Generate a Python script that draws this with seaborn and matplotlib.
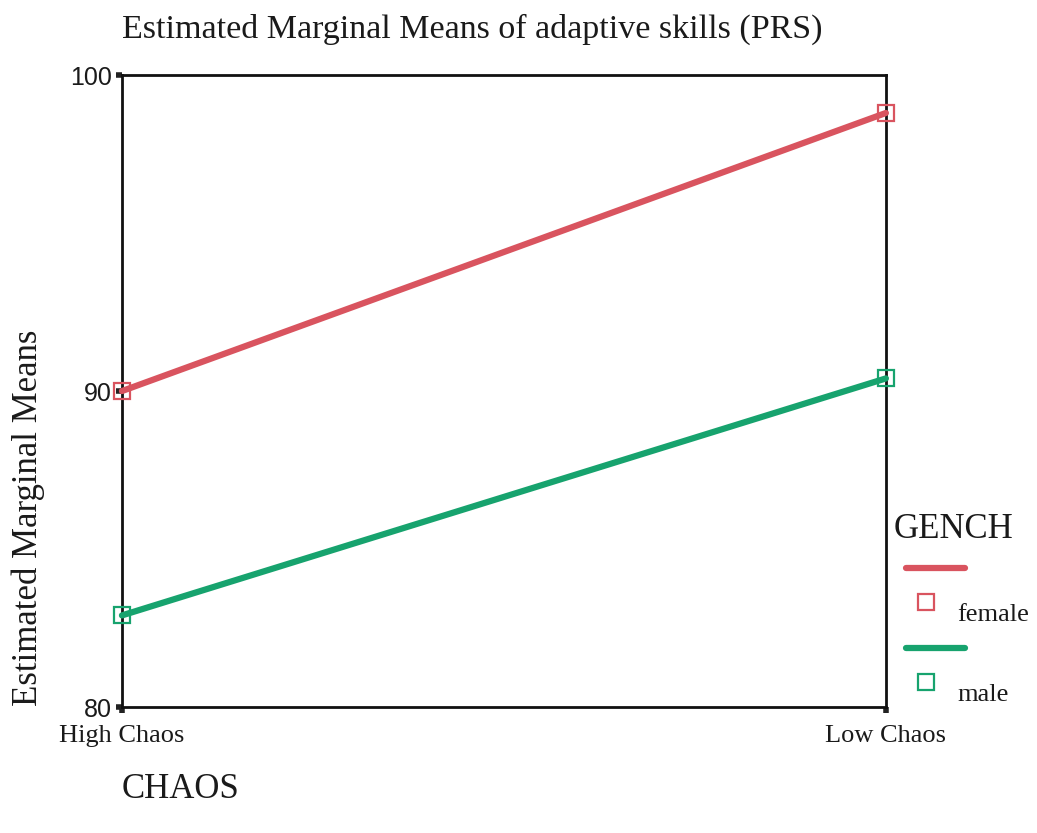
#Estimated marginal means plot (SPSS style) in seaborn

import matplotlib
matplotlib.use('Agg')
import matplotlib.pyplot as plt
from matplotlib.lines import Line2D
import pandas as pd
import seaborn as sb

#Data
chaos = ['High Chaos', 'Low Chaos']
female = [90.0, 98.8]
male = [82.9, 90.4]
groups = ['female', 'male']
colors = {'female': '#d9545f', 'male': '#17a36e'}

df = pd.DataFrame({
    'CHAOS': chaos * 2,
    'mean': female + male,
    'GENCH': ['female'] * len(chaos) + ['male'] * len(chaos),
})
df['x'] = df['CHAOS'].map({c: i for i, c in enumerate(chaos)})

sb.set_style('white')
serif = 'Liberation Serif'
sans = 'Liberation Sans'

fig = plt.figure(figsize=(10.37, 8.33), dpi=100)
ax = fig.add_axes([0.1176, 0.1512, 0.7367, 0.7587])

sb.lineplot(data=df, x='x', y='mean', hue='GENCH', palette=colors,
            marker='s', markersize=12, markerfacecolor='none',
            markeredgewidth=1.6, linewidth=4.5, legend=False, ax=ax)
#open squares take the line colour, and are not cut at the frame
for line, g in zip(ax.get_lines(), groups):
    line.set_markeredgecolor(colors[g])
    line.set_clip_on(False)
    line.set_zorder(5)

ax.set_xlim(0, 1)
ax.set_ylim(80, 100)
ax.set_xticks(range(len(chaos)))
ax.set_xticklabels(chaos, fontfamily=serif, fontsize=19, color='#1a1a1a')
ax.set_yticks([80, 90, 100])
ax.set_yticklabels(['80', '90', '100'], fontfamily=sans, fontsize=18, color='#1a1a1a')
ax.tick_params(axis='both', direction='out', length=4, width=4, color='#222222',
               bottom=True, left=True)
ax.tick_params(axis='x', pad=9)
ax.tick_params(axis='y', pad=3)
ax.set_xlabel('')
ax.set_ylabel('')
for s in ax.spines.values():
    s.set_color('#111111')
    s.set_linewidth(2)

fig.text(0.1176, 0.965, 'Estimated Marginal Means of adaptive skills (PRS)',
         fontfamily=serif, fontsize=24.5, va='center', ha='left', color='#1a1a1a')
fig.text(0.027, 0.153, 'Estimated Marginal Means', fontfamily=serif, fontsize=25,
         rotation=90, va='bottom', ha='center', color='#1a1a1a')
fig.text(0.1176, 0.052, 'CHAOS', fontfamily=serif, fontsize=25, va='center', ha='left',
         color='#1a1a1a')

#Legend drawn the SPSS way: line sample, marker below, label offset
fig.text(0.862, 0.364, 'GENCH', fontfamily=serif, fontsize=25, va='center', ha='left',
         color='#1a1a1a')
rows = [(groups[0], 0.318), (groups[1], 0.222)]
for g, yl in rows:
    fig.add_artist(Line2D([0.874, 0.931], [yl, yl], transform=fig.transFigure,
                          color=colors[g], linewidth=4.5))
    fig.add_artist(Line2D([0.893], [yl - 0.041], transform=fig.transFigure,
                          marker='s', markersize=11, markerfacecolor='none',
                          markeredgecolor=colors[g], markeredgewidth=1.6, linestyle='none'))
    fig.text(0.923, yl - 0.056, g, fontfamily=serif, fontsize=19, va='center', ha='left',
             color='#1a1a1a')

plt.savefig('out.png', dpi=100)
